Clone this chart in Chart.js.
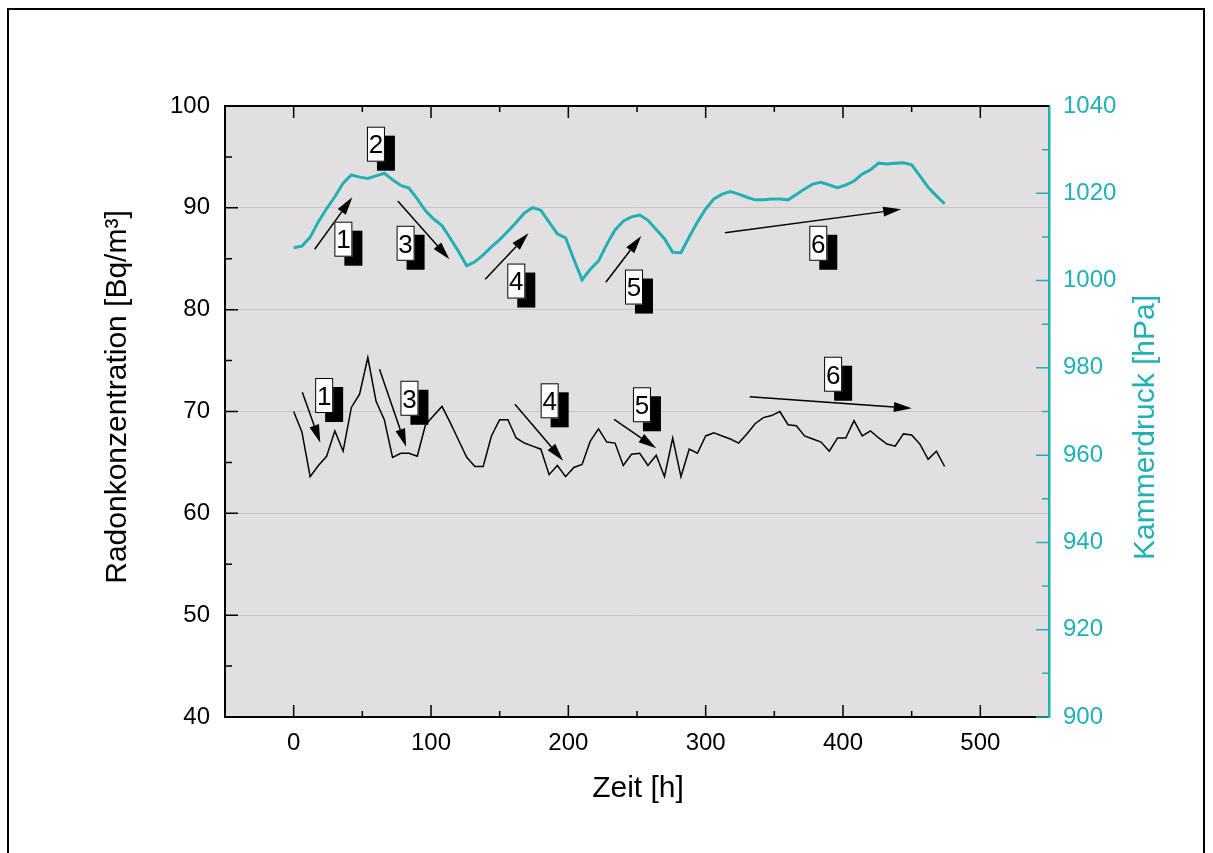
<!DOCTYPE html>
<html>
<head>
<meta charset="utf-8">
<script src="https://cdn.jsdelivr.net/npm/chart.js@4"></script>
<style>
html, body { margin: 0; padding: 0; background: #fff; }
</style>
</head>
<body>
<canvas id="grafik" width="1213" height="853"></canvas>
<script>
// Messzeitpunkte in Stunden
const zeit = [0,6,12,18,24,30,36,42,48,54,60,66,72,78,84,90,96,102,108,114,
  120,126,132,138,144,150,156,162,168,174,180,186,192,198,204,210,216,222,228,234,
  240,246,252,258,264,270,276,282,288,294,300,306,312,318,324,330,336,342,348,354,
  360,366,372,378,384,390,396,402,408,414,420,426,432,438,444,450,456,462,468,474];

// Radonkonzentration [Bq/m³]
const radon = [70.0,68.0,63.6,64.7,65.6,68.1,66.1,70.4,71.7,75.3,
  71.0,69.2,65.5,65.9,65.9,65.6,68.7,69.6,70.5,68.9,
  67.2,65.5,64.6,64.6,67.6,69.2,69.2,67.4,66.9,66.6,
  66.3,63.8,64.7,63.6,64.5,64.8,67.1,68.3,67.0,66.9,
  64.7,65.8,65.9,64.7,65.7,63.6,67.4,63.6,66.3,65.9,
  67.6,67.9,67.6,67.3,66.9,67.8,68.8,69.4,69.6,70.0,
  68.7,68.6,67.6,67.3,67.0,66.1,67.4,67.4,69.1,67.6,
  68.1,67.4,66.8,66.6,67.8,67.7,66.8,65.3,66.1,64.6];

// Kammerdruck [hPa]
const kammerdruck = [1007.5,1007.9,1009.9,1013.5,1016.5,1019.2,1022.3,1024.2,1023.7,1023.4,
  1024.0,1024.6,1023.1,1021.8,1021.2,1018.7,1016.0,1014.1,1012.6,1009.7,
  1006.7,1003.4,1004.3,1005.9,1007.7,1009.4,1011.3,1013.3,1015.5,1016.7,
  1016.1,1013.4,1010.7,1009.8,1004.9,1000.2,1002.6,1004.5,1008.3,1011.6,
  1013.6,1014.6,1015.0,1013.8,1011.7,1009.6,1006.5,1006.4,1010.0,1013.4,
  1016.4,1018.7,1019.8,1020.4,1019.8,1019.1,1018.5,1018.5,1018.7,1018.7,
  1018.5,1019.7,1021.0,1022.1,1022.5,1021.9,1021.3,1021.9,1022.8,1024.4,
  1025.4,1026.9,1026.7,1026.9,1027.0,1026.5,1024.0,1021.4,1019.4,1017.6];

// Achsenteilung
const xTicks = [0,100,200,300,400,500];
const xMinor = [50,150,250,350,450];
const yTicks = [40,50,60,70,80,90,100];
const yMinor = [45,55,65,75,85,95];
const y2Ticks = [900,920,940,960,980,1000,1020,1040];
const y2Minor = [910,930,950,970,990,1010,1030];

// Pfeile: [t0, wert0, t1, wert1] in Koordinaten der linken Achse
const pfeile = [
  [15.3,85.93,42.7,91.03],
  [75.8,90.67,113.4,84.95],
  [139.5,82.98,171.0,87.50],
  [227.3,82.69,253.1,87.23],
  [314.0,87.56,442.4,89.86],
  [6.3,71.88,19.4,66.94],
  [62.5,74.14,81.9,66.54],
  [161.1,70.71,196.2,65.17],
  [233.3,69.23,264.0,66.39],
  [332.1,71.45,450.1,70.31]
];
// Nummernfelder: [text, t, wert]
const marken = [
  ['2',59.9,96.25],['1',36.2,86.92],['3',81.5,86.52],['4',162.1,82.81],['5',247.8,82.22],['6',382.0,86.52],
  ['1',22.2,71.57],['3',84.3,71.30],['4',186.4,71.05],['5',253.6,70.66],['6',392.8,73.66]
];

const TEAL = '#21b0b5';
const FONT = "'Liberation Sans', Arial, sans-serif";

const rahmen = {
  id: 'rahmen',
  beforeDraw(chart) {
    const ctx = chart.ctx, a = chart.chartArea;
    ctx.save();
    ctx.fillStyle = '#fff';
    ctx.fillRect(0, 0, chart.width, chart.height);
    ctx.strokeStyle = '#000';
    ctx.lineWidth = 2;
    ctx.strokeRect(8, 9, 1196, 900);
    ctx.fillStyle = '#e1dfe0';
    ctx.fillRect(a.left, a.top, a.right - a.left, a.bottom - a.top);
    ctx.restore();
  },
  afterDatasetsDraw(chart) {
    const ctx = chart.ctx, a = chart.chartArea;
    const sx = chart.scales.x, sy = chart.scales.y, sy2 = chart.scales.y2;
    ctx.save();
    // Skalenstriche nach innen
    ctx.lineWidth = 1.5;
    ctx.strokeStyle = '#000';
    ctx.beginPath();
    xTicks.forEach(v => {
      const px = sx.getPixelForValue(v);
      ctx.moveTo(px, a.bottom); ctx.lineTo(px, a.bottom - 12);
      ctx.moveTo(px, a.top); ctx.lineTo(px, a.top + 12);
    });
    xMinor.forEach(v => {
      const px = sx.getPixelForValue(v);
      ctx.moveTo(px, a.bottom); ctx.lineTo(px, a.bottom - 6);
      ctx.moveTo(px, a.top); ctx.lineTo(px, a.top + 6);
    });
    yTicks.forEach(v => {
      const py = sy.getPixelForValue(v);
      ctx.moveTo(a.left, py); ctx.lineTo(a.left + 13, py);
    });
    yMinor.forEach(v => {
      const py = sy.getPixelForValue(v);
      ctx.moveTo(a.left, py); ctx.lineTo(a.left + 7, py);
    });
    ctx.stroke();
    ctx.strokeStyle = TEAL;
    ctx.beginPath();
    y2Ticks.forEach(v => {
      const py = sy2.getPixelForValue(v);
      ctx.moveTo(a.right, py); ctx.lineTo(a.right - 13, py);
    });
    y2Minor.forEach(v => {
      const py = sy2.getPixelForValue(v);
      ctx.moveTo(a.right, py); ctx.lineTo(a.right - 7, py);
    });
    ctx.stroke();
    // obere Rahmenlinie
    ctx.strokeStyle = '#000';
    ctx.lineWidth = 2;
    ctx.beginPath();
    ctx.moveTo(a.left - 1, a.top);
    ctx.lineTo(a.right, a.top);
    ctx.stroke();

    // Pfeile
    ctx.fillStyle = '#000';
    ctx.lineWidth = 1.5;
    pfeile.forEach(p => {
      const x0 = sx.getPixelForValue(p[0]), y0 = sy.getPixelForValue(p[1]);
      const x1 = sx.getPixelForValue(p[2]), y1 = sy.getPixelForValue(p[3]);
      const w = Math.atan2(y1 - y0, x1 - x0);
      const l = 18, b = 5;
      const bx = x1 - l * Math.cos(w), by = y1 - l * Math.sin(w);
      ctx.beginPath();
      ctx.moveTo(x0, y0); ctx.lineTo(bx, by);
      ctx.stroke();
      ctx.beginPath();
      ctx.moveTo(x1, y1);
      ctx.lineTo(bx + b * Math.sin(w), by - b * Math.cos(w));
      ctx.lineTo(bx - b * Math.sin(w), by + b * Math.cos(w));
      ctx.closePath();
      ctx.fill();
    });

    // Nummernfelder mit Schatten
    ctx.font = '26px ' + FONT;
    ctx.textAlign = 'center';
    ctx.textBaseline = 'alphabetic';
    marken.forEach(m => {
      const cx = sx.getPixelForValue(m[1]), cy = sy.getPixelForValue(m[2]);
      const bw = 18, bh = 35;
      ctx.fillStyle = '#000';
      ctx.fillRect(cx - bw / 2 + 10, cy - bh / 2 + 9, bw, bh);
      ctx.fillStyle = '#fff';
      ctx.fillRect(cx - bw / 2, cy - bh / 2, bw, bh);
      ctx.lineWidth = 1;
      ctx.strokeStyle = '#000';
      ctx.strokeRect(cx - bw / 2 + 0.5, cy - bh / 2 + 0.5, bw - 1, bh - 1);
      ctx.fillStyle = '#000';
      ctx.fillText(m[0], cx, cy + 9.3);
    });

    // Achsentitel
    ctx.font = '30px ' + FONT;
    ctx.fillStyle = '#000';
    ctx.fillText('Zeit [h]', 638, 797);
    ctx.save();
    ctx.translate(126, 397);
    ctx.rotate(-Math.PI / 2);
    ctx.fillText('Radonkonzentration [Bq/m³]', 0, 0);
    ctx.restore();
    ctx.save();
    ctx.fillStyle = TEAL;
    ctx.translate(1153.5, 427.5);
    ctx.rotate(-Math.PI / 2);
    ctx.fillText('Kammerdruck [hPa]', 0, 0);
    ctx.restore();
    ctx.restore();
  }
};

const ohneTrenner = v => String(v);

new Chart(document.getElementById('grafik'), {
  type: 'line',
  data: {
    datasets: [
      {
        label: 'Kammerdruck',
        data: zeit.map((t, i) => ({x: t, y: kammerdruck[i]})),
        yAxisID: 'y2',
        borderColor: TEAL,
        borderWidth: 3,
        pointRadius: 0,
        tension: 0
      },
      {
        label: 'Radonkonzentration',
        data: zeit.map((t, i) => ({x: t, y: radon[i]})),
        yAxisID: 'y',
        borderColor: '#000',
        borderWidth: 1.5,
        pointRadius: 0,
        tension: 0
      }
    ]
  },
  options: {
    responsive: false,
    animation: false,
    devicePixelRatio: 1,
    layout: { padding: { top: 106, left: 0, right: 0, bottom: 0 } },
    plugins: { legend: { display: false }, tooltip: { enabled: false } },
    scales: {
      x: {
        type: 'linear',
        min: -50, max: 550,
        afterFit(s) { s.height = 136; },
        afterBuildTicks(s) { s.ticks = xTicks.map(v => ({value: v})); },
        grid: { drawOnChartArea: false, drawTicks: false },
        border: { color: '#000', width: 2 },
        ticks: { color: '#000', padding: 12, maxRotation: 0, callback: ohneTrenner, font: { family: FONT, size: 24 } }
      },
      y: {
        position: 'left',
        min: 40, max: 100,
        afterFit(s) { s.width = 225; },
        afterBuildTicks(s) { s.ticks = yTicks.map(v => ({value: v})); },
        grid: {
          drawTicks: false,
          lineWidth: 1,
          color: c => (c.tick && (c.tick.value === 40 || c.tick.value === 100)) ? 'rgba(0,0,0,0)' : '#c6c4c5'
        },
        border: { color: '#000', width: 2 },
        ticks: { color: '#000', padding: 15, callback: ohneTrenner, font: { family: FONT, size: 24 } }
      },
      y2: {
        position: 'right',
        min: 900, max: 1040,
        afterFit(s) { s.width = 164; },
        afterBuildTicks(s) { s.ticks = y2Ticks.map(v => ({value: v})); },
        grid: { drawOnChartArea: false, drawTicks: false },
        border: { color: TEAL, width: 2.5 },
        ticks: { color: TEAL, padding: 14, callback: ohneTrenner, font: { family: FONT, size: 24 } }
      }
    }
  },
  plugins: [rahmen]
});
</script>
</body>
</html>
